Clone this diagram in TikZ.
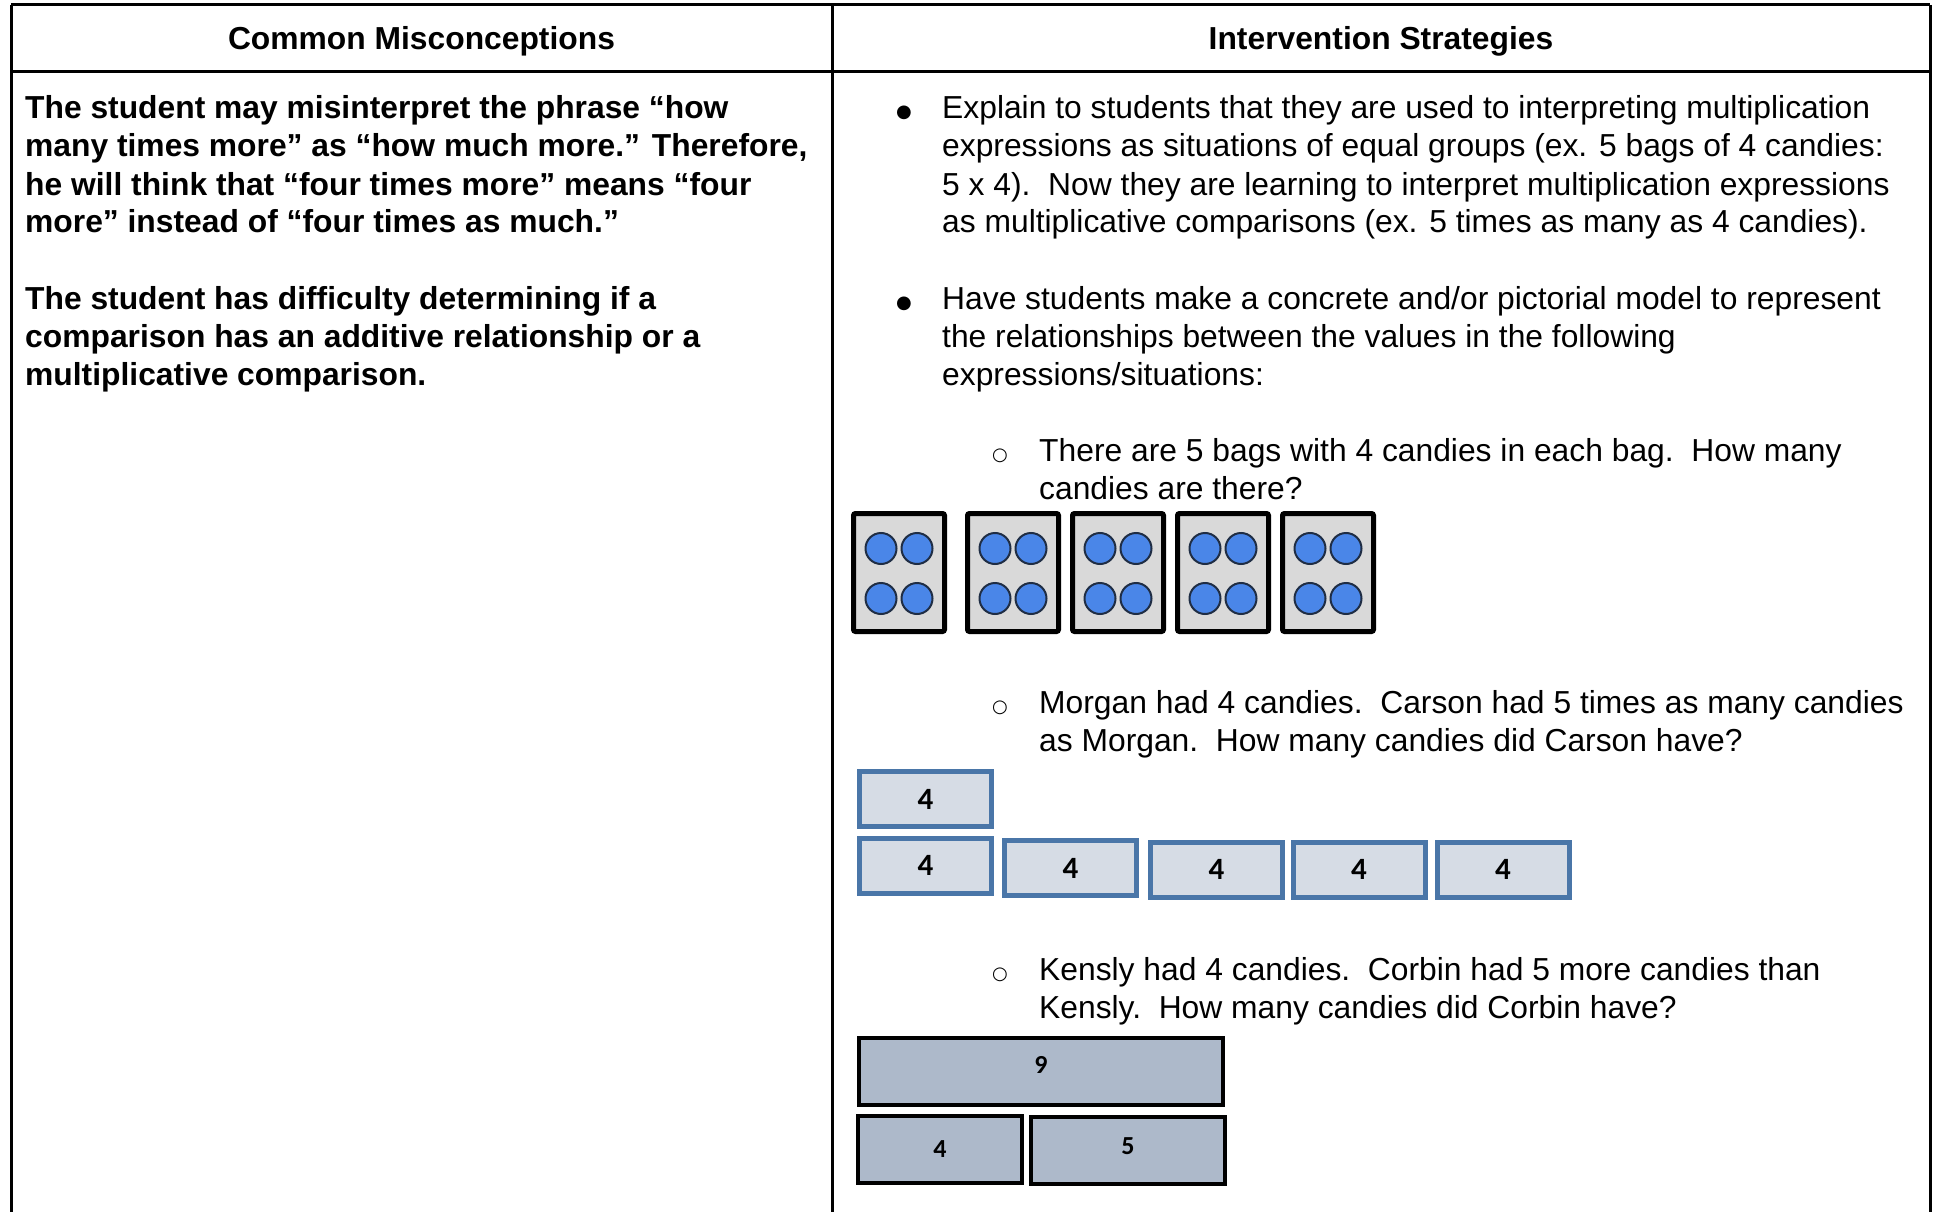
\documentclass[tikz,border=0pt]{standalone}
\usepackage{fontspec}
\setmainfont{Liberation Sans}
\newfontfamily\tapefont{Carlito}
\newfontfamily\dotfont{DejaVu Sans}
\usepackage{tikz}
\usetikzlibrary{positioning}

\definecolor{bagfill}{HTML}{D9D9D9}
\definecolor{candyblue}{HTML}{4A86E8}
\definecolor{candyline}{HTML}{1F2D44}
\definecolor{barfill}{HTML}{D6DCE5}
\definecolor{barline}{HTML}{4A76A8}
\definecolor{partfill}{HTML}{ADB9CA}

\tikzset{
  rule/.style={line width=3pt},
  plain/.style={anchor=base west, inner sep=0pt, font=\fontsize{31.8}{38}\selectfont},
  heavy/.style={plain, font=\fontsize{31.8}{38}\selectfont\bfseries},
  head/.style={anchor=base, inner sep=0pt, font=\fontsize{31.8}{38}\selectfont\bfseries},
  dot/.style={anchor=base, inner sep=0pt, font=\dotfont\fontsize{18}{20}\selectfont},
  bag/.style={draw=black, line width=5pt, fill=bagfill, rounded corners=2pt,
    minimum width=91pt, minimum height=118pt, inner sep=0pt},
  candy/.style={circle, draw=candyline, line width=2pt, fill=candyblue,
    minimum size=31pt, inner sep=0pt},
  bar/.style={draw=barline, line width=5pt, fill=barfill, minimum width=132pt,
    minimum height=55pt, inner sep=0pt, font=\tapefont\bfseries\fontsize{31}{34}\selectfont},
  part/.style={draw=black, line width=4pt, fill=partfill, minimum height=67pt,
    inner sep=0pt, font=\tapefont\bfseries\fontsize{26}{28}\selectfont}
}

\begin{document}
\begin{tikzpicture}[x=1pt,y=-1pt]
  \useasboundingbox (0,0) rectangle (1939,1212);

  % table grid
  \draw[rule] (11,5) -- (1930,5);
  \draw[rule] (11,72) -- (1930,72);
  \draw[rule] (11,5) -- (11,1212);
  \draw[rule] (832,5) -- (832,1212);
  \draw[rule] (1930,5) -- (1930,1212);

  \node[head] (misconhead) at (421.5,50) {Common Misconceptions};
  \node[head] (stratshead) at (1381,50) {Intervention Strategies};

  % left column
  \foreach \ln [count=\i from 0] in {%
      {The student may misinterpret the phrase “how},
      {many times more” as “how much more.” Therefore,},
      {he will think that “four times more” means “four},
      {more” instead of “four times as much.”}}
    \node[heavy] (misa\i) at (25,119+38*\i) {\ln};
  \foreach \ln [count=\i from 0] in {%
      {The student has difficulty determining if a},
      {comparison has an additive relationship or a},
      {multiplicative comparison.}}
    \node[heavy] (misb\i) at (25,309+38*\i) {\ln};

  % right column
  \node[dot] (dota) at (904,118) {●};
  \foreach \ln [count=\i from 0] in {%
      {Explain to students that they are used to interpreting multiplication},
      {expressions as situations of equal groups (ex. 5 bags of 4 candies:},
      {5 x 4).\ \ Now they are learning to interpret multiplication expressions},
      {as multiplicative comparisons (ex. 5 times as many as 4 candies).}}
    \node[plain] (expl\i) at (942,119+38*\i) {\ln};
  \node[dot] (dotb) at (904,308) {●};
  \foreach \ln [count=\i from 0] in {%
      {Have students make a concrete and/or pictorial model to represent},
      {the relationships between the values in the following},
      {expressions/situations:}}
    \node[plain] (model\i) at (942,309+38*\i) {\ln};

  % equal groups
  \node[dot] (ringa) at (1000,460) {○};
  \node[plain] (bagsa) at (1039,461) {There are 5 bags with 4 candies in each bag.\ \ How many};
  \node[plain] (bagsb) at (1039,499) {candies are there?};
  \foreach \bx [count=\i] in {899,1013,1118,1223,1328} {
    \node[bag] (bag\i) at (\bx,572.5) {};
    \foreach \dx/\dy [count=\j] in {-18/-24,18/-24,-18/26,18/26}
      \node[candy] (candy\i\j) at (\bx+\dx,572.5+\dy) {};
  }

  % times as many
  \node[dot] (ringb) at (1000,712) {○};
  \node[plain] (morga) at (1039,713) {Morgan had 4 candies.\ \ Carson had 5 times as many candies};
  \node[plain] (morgb) at (1039,751) {as Morgan.\ \ How many candies did Carson have?};
  \node[bar] (morgan) at (925.5,799) {4};
  \foreach \bx/\by [count=\i] in {925.5/865.5,1070.5/868,1216.5/869.5,1359/869.5,1503/869.5}
    \node[bar] (carson\i) at (\bx,\by) {4};

  % more than
  \node[dot] (ringc) at (1000,979) {○};
  \node[plain] (kena) at (1039,980) {Kensly had 4 candies.\ \ Corbin had 5 more candies than};
  \node[plain] (kenb) at (1039,1018) {Kensly.\ \ How many candies did Corbin have?};
  \node[part, minimum width=364pt, text depth=14pt] (corbin) at (1041,1071.5) {9};
  \node[part, minimum width=164pt] (kensly) at (940,1149.5) {4};
  \node[part, minimum width=194pt, text depth=8pt] (extra) at (1128,1150.5) {5};
\end{tikzpicture}
\end{document}
